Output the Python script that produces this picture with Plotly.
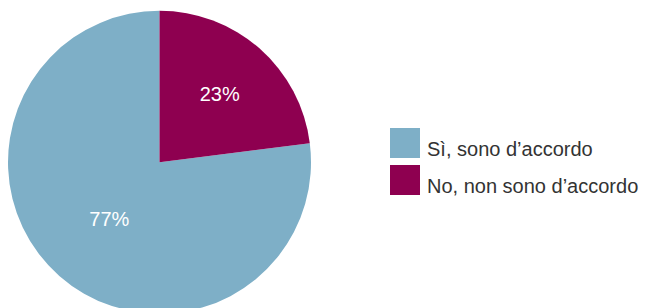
import plotly.graph_objects as go

labels = ["Sì, sono d’accordo", "No, non sono d’accordo"]
values = [77, 23]
colors = ["#7EAFC7", "#8E0050"]

W, H = 649, 314
FONT = "Liberation Sans, Arial, sans-serif"

# second slice ends at 12 o'clock, drawn clockwise from there
rotation = 360 * values[1] / sum(values)

fig = go.Figure()
fig.add_trace(go.Pie(
    labels=labels,
    values=values,
    sort=False,
    direction="clockwise",
    rotation=rotation,
    marker=dict(colors=colors, line=dict(width=0)),
    textinfo="percent",
    textposition="inside",
    insidetextfont=dict(color="white", size=20, family=FONT),
    domain=dict(x=[8 / W, 311 / W], y=[0, 303.5 / H]),
    showlegend=False,
    hoverinfo="label+percent",
))

# custom legend with large square swatches
sw_x0, sw_x1 = 390, 420
sw_tops = [128, 165]
size = 30
shapes = []
annotations = []
for i, (lab, col) in enumerate(zip(labels, colors)):
    y0 = sw_tops[i]
    shapes.append(dict(
        type="rect", xref="paper", yref="paper",
        x0=sw_x0 / W, x1=sw_x1 / W,
        y0=1 - (y0 + size) / H, y1=1 - y0 / H,
        fillcolor=col, line=dict(width=0),
    ))
    annotations.append(dict(
        text=lab, xref="paper", yref="paper",
        x=425 / W, y=1 - (y0 + 21) / H,
        xanchor="left", yanchor="middle", showarrow=False,
        font=dict(family=FONT, size=20, color="#333333"),
    ))

fig.update_layout(
    width=W, height=H,
    margin=dict(l=0, r=0, t=0, b=0),
    paper_bgcolor="white",
    plot_bgcolor="white",
    shapes=shapes,
    annotations=annotations,
    showlegend=False,
)

fig.write_html(
    "out.html",
    config={"displayModeBar": False},
    post_script="document.body.style.margin='0';document.body.style.overflow='hidden';document.documentElement.style.overflow='hidden';",
)
